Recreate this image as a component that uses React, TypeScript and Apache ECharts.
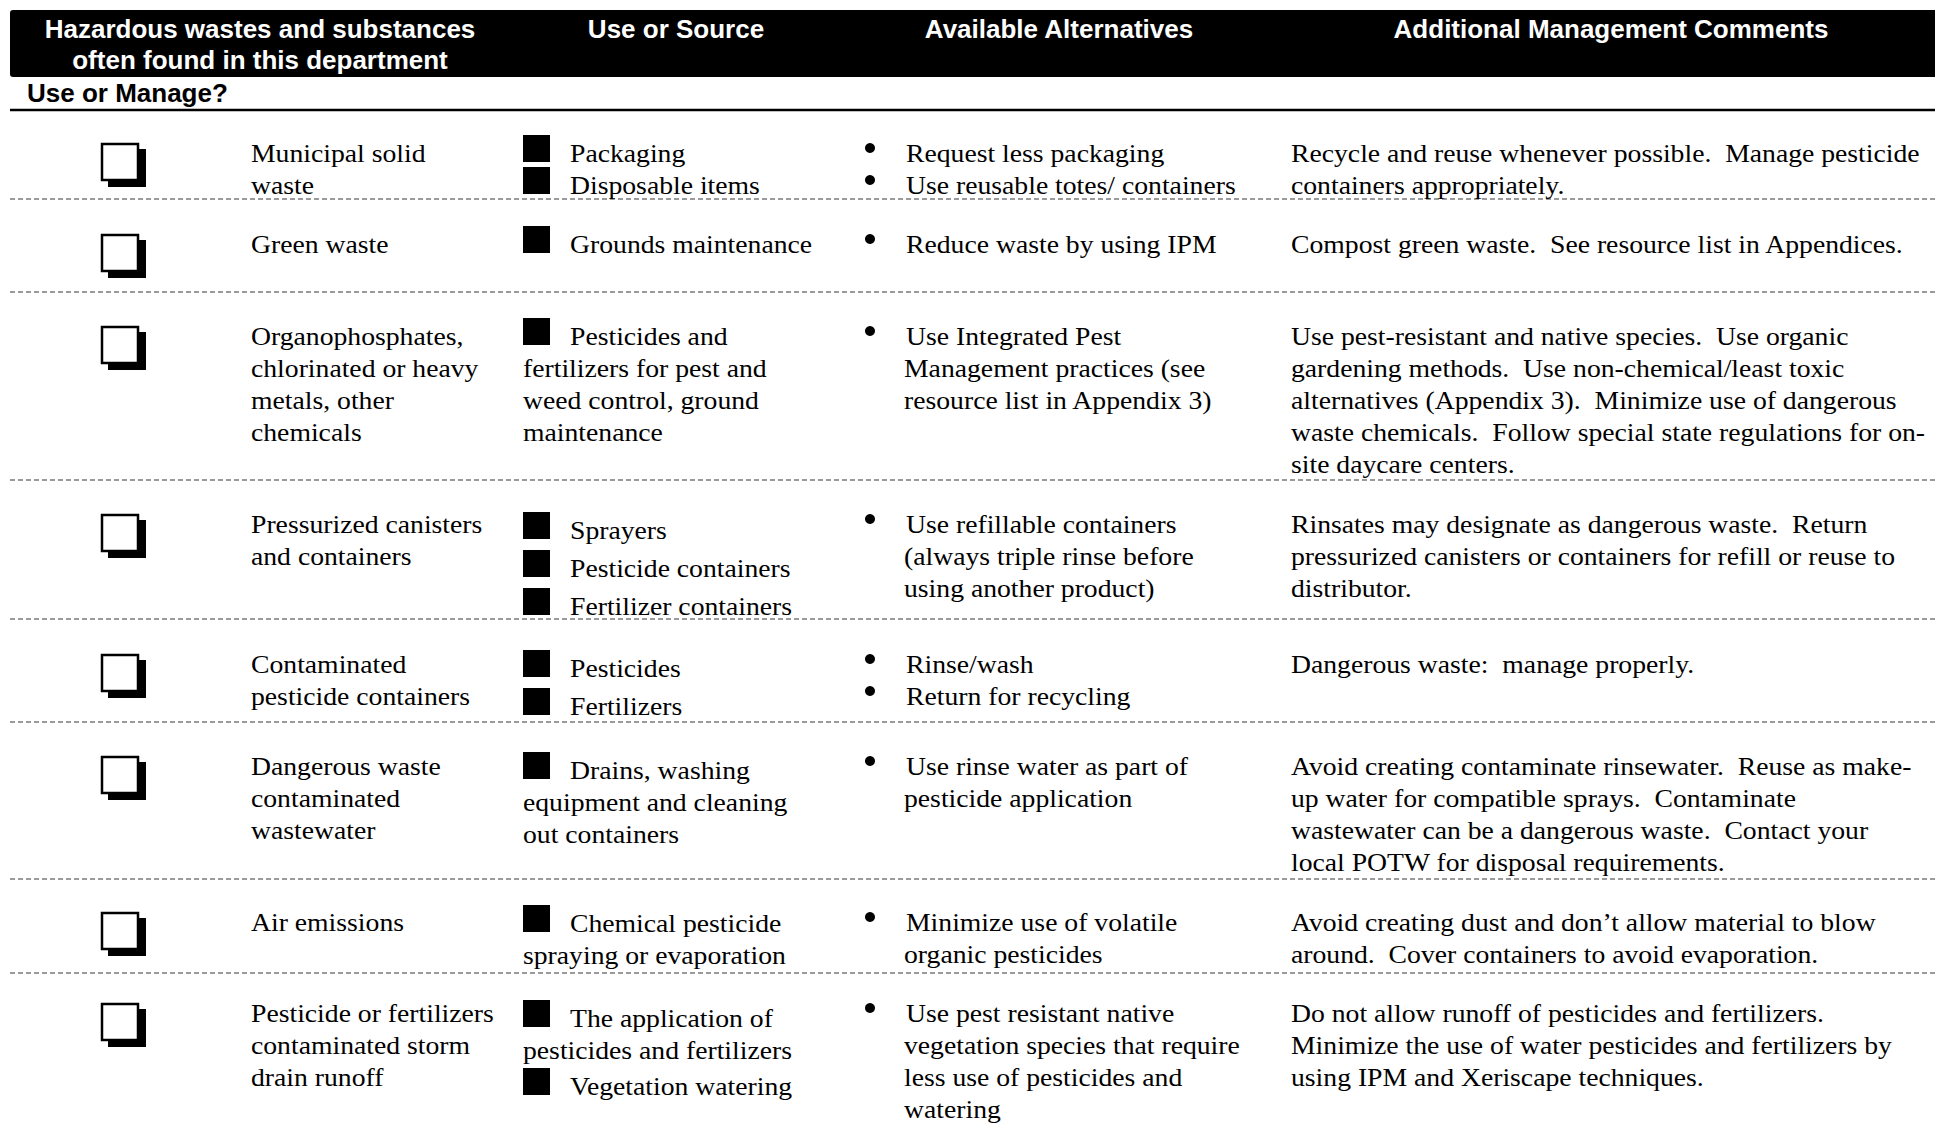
import React, { useEffect, useRef } from "react";
import * as echarts from "echarts";

// ---------- content ----------
const HEADERS: string[][] = [
  ["Hazardous wastes and substances", "often found in this department"],
  ["Use or Source"],
  ["Available Alternatives"],
  ["Additional Management Comments"],
];
const SUBHEADER = "Use or Manage?";

const WASTES: string[][] = [
  ["Municipal solid", "waste"],
  ["Green waste"],
  ["Organophosphates,", "chlorinated or heavy", "metals, other", "chemicals"],
  ["Pressurized canisters", "and containers"],
  ["Contaminated", "pesticide containers"],
  ["Dangerous waste", "contaminated", "wastewater"],
  ["Air emissions"],
  ["Pesticide or fertilizers", "contaminated storm", "drain runoff"],
];

const SOURCES: string[][][] = [
  [["Packaging"], ["Disposable items"]],
  [["Grounds maintenance"]],
  [["Pesticides and", "fertilizers for pest and", "weed control, ground", "maintenance"]],
  [["Sprayers"], ["Pesticide containers"], ["Fertilizer containers"]],
  [["Pesticides"], ["Fertilizers"]],
  [["Drains, washing", "equipment and cleaning", "out containers"]],
  [["Chemical pesticide", "spraying or evaporation"]],
  [["The application of", "pesticides and fertilizers"], ["Vegetation watering"]],
];

const ALTERNATIVES: string[][][] = [
  [["Request less packaging"], ["Use reusable totes/ containers"]],
  [["Reduce waste by using IPM"]],
  [["Use Integrated Pest", "Management practices (see", "resource list in Appendix 3)"]],
  [["Use refillable containers", "(always triple rinse before", "using another product)"]],
  [["Rinse/wash"], ["Return for recycling"]],
  [["Use rinse water as part of", "pesticide application"]],
  [["Minimize use of volatile", "organic pesticides"]],
  [["Use pest resistant native", "vegetation species that require", "less use of pesticides and", "watering"]],
];

const COMMENTS: string[][] = [
  ["Recycle and reuse whenever possible.  Manage pesticide", "containers appropriately."],
  ["Compost green waste.  See resource list in Appendices."],
  [
    "Use pest-resistant and native species.  Use organic",
    "gardening methods.  Use non-chemical/least toxic",
    "alternatives (Appendix 3).  Minimize use of dangerous",
    "waste chemicals.  Follow special state regulations for on-",
    "site daycare centers.",
  ],
  [
    "Rinsates may designate as dangerous waste.  Return",
    "pressurized canisters or containers for refill or reuse to",
    "distributor.",
  ],
  ["Dangerous waste:  manage properly."],
  [
    "Avoid creating contaminate rinsewater.  Reuse as make-",
    "up water for compatible sprays.  Contaminate",
    "wastewater can be a dangerous waste.  Contact your",
    "local POTW for disposal requirements.",
  ],
  ["Avoid creating dust and don\u2019t allow material to blow", "around.  Cover containers to avoid evaporation."],
  [
    "Do not allow runoff of pesticides and fertilizers.",
    "Minimize the use of water pesticides and fertilizers by",
    "using IPM and Xeriscape techniques.",
  ],
];

// ---------- layout ----------
const W = 1935;
const H = 1123;
const LINE_H = 32;
const ROW_FIRST = [153, 244, 336, 524, 664, 766, 922, 1013];
const DIVIDERS = [199, 292, 480, 619, 722, 879, 973];
const SRC_SHIFT = [0, 0, 0, 6, 4, 4, 1, 5];
const SRC_GAP = [0, 0, 0, 6, 6, 0, 0, 4];
const HEADER_X = [260, 676, 1059, 1611];
const HEADER_Y = [28.5, 60];
const COL1_X = 251;
const SQ_X = 523;
const SQ_TEXT_X = 570;
const BUL_X = 870;
const ALT_TEXT_X = 906;
const ALT_CONT_X = 904;
const COM_X = 1291;

const SERIF = '"Liberation Serif", "Times New Roman", serif';
const SANS = '"Liberation Sans", Arial, Helvetica, sans-serif';
const BODY_SIZE = 26;
const BODY_SCALE = 1.065;

function bodyText(text: string, x: number, y: number) {
  return {
    type: "text",
    x,
    y,
    scaleX: BODY_SCALE,
    silent: true,
    style: {
      text,
      x: 0,
      y: 0,
      fill: "#000",
      fontFamily: SERIF,
      fontSize: BODY_SIZE,
      align: "left",
      verticalAlign: "middle",
    },
  };
}

function buildElements() {
  const els: any[] = [];
  // header bar
  els.push({
    type: "rect",
    shape: { x: 10, y: 10, width: W, height: 67, r: 3 },
    style: { fill: "#000" },
  });
  HEADERS.forEach((lines, ci) => {
    lines.forEach((t, li) => {
      els.push({
        type: "text",
        x: HEADER_X[ci],
        y: HEADER_Y[li],
        style: {
          text: t,
          fill: "#fff",
          fontFamily: SANS,
          fontWeight: "bold",
          fontSize: 26,
          align: "center",
          verticalAlign: "middle",
        },
      });
    });
  });
  els.push({
    type: "text",
    x: 27,
    y: 93,
    style: {
      text: SUBHEADER,
      fill: "#000",
      fontFamily: SANS,
      fontWeight: "bold",
      fontSize: 26,
      align: "left",
      verticalAlign: "middle",
    },
  });
  els.push({
    type: "line",
    shape: { x1: 10, y1: 110, x2: W, y2: 110 },
    style: { stroke: "#000", lineWidth: 2.5 },
  });

  // dividers
  DIVIDERS.forEach((y) => {
    els.push({
      type: "line",
      shape: { x1: 10, y1: y, x2: W, y2: y },
      style: { stroke: "#7a7a7a", lineWidth: 1.5, lineDash: [5, 3] },
    });
  });

  WASTES.forEach((lines, r) => {
    const top = ROW_FIRST[r];
    // checkbox with shadow
    els.push({
      type: "rect",
      shape: { x: 108, y: top - 4, width: 38, height: 38 },
      style: { fill: "#000" },
    });
    els.push({
      type: "rect",
      shape: { x: 102, y: top - 9, width: 36, height: 36 },
      style: { fill: "#fff", stroke: "#000", lineWidth: 2.5 },
    });
    // column 1
    lines.forEach((t, li) => els.push(bodyText(t, COL1_X, top + li * LINE_H)));

    // column 2 (square bullets)
    let y = top + SRC_SHIFT[r];
    SOURCES[r].forEach((item) => {
      els.push({
        type: "rect",
        shape: { x: SQ_X, y: y - 18, width: 27, height: 27 },
        style: { fill: "#000" },
      });
      item.forEach((t, li) => {
        els.push(bodyText(t, li === 0 ? SQ_TEXT_X : SQ_X, y + li * LINE_H));
      });
      y += item.length * LINE_H + SRC_GAP[r];
    });

    // column 3 (round bullets)
    let y3 = top;
    ALTERNATIVES[r].forEach((item) => {
      els.push({
        type: "circle",
        shape: { cx: BUL_X, cy: y3 - 5, r: 5 },
        style: { fill: "#000" },
      });
      item.forEach((t, li) => {
        els.push(bodyText(t, li === 0 ? ALT_TEXT_X : ALT_CONT_X, y3 + li * LINE_H));
      });
      y3 += item.length * LINE_H;
    });

    // column 4
    COMMENTS[r].forEach((t, li) => els.push(bodyText(t, COM_X, top + li * LINE_H)));
  });
  return els;
}

export default function App() {
  const ref = useRef<HTMLDivElement>(null);
  useEffect(() => {
    document.body.style.margin = "0";
    const chart = echarts.init(ref.current!, null, { renderer: "svg" });
    chart.setOption({
      animation: false,
      backgroundColor: "#fff",
      graphic: { elements: buildElements() },
    });
    return () => chart.dispose();
  }, []);
  return (
    <div
      ref={ref}
      style={{ position: "fixed", left: 0, top: 0, width: W, height: H, background: "#fff" }}
    />
  );
}
